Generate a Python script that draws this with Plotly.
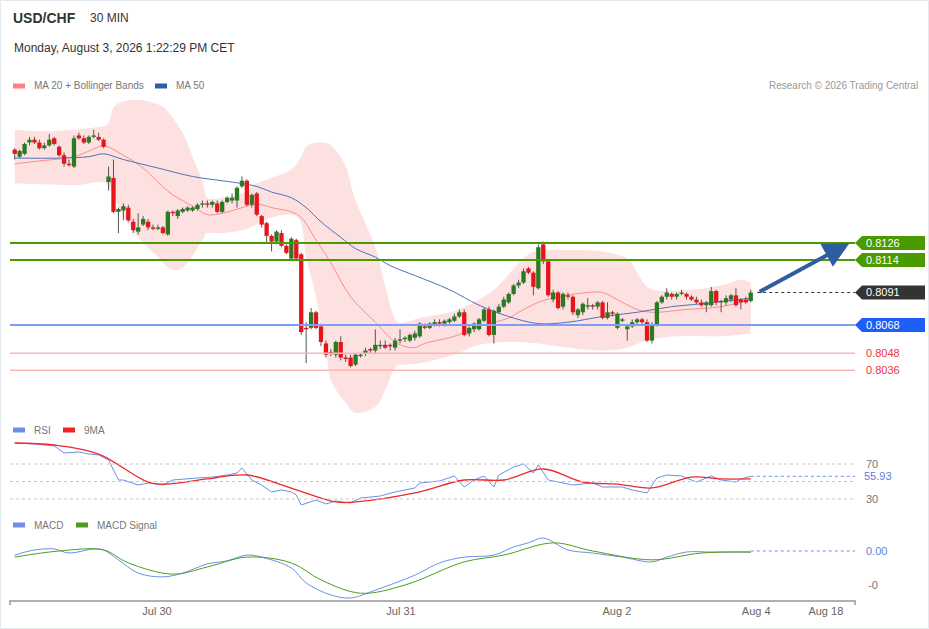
import plotly.graph_objects as go

# ---- candles (30 min, index 0 = first bar on the chart) ----
open_ = [0.8192, 0.8187, 0.8189, 0.8197, 0.8199, 0.8197, 0.8193, 0.8195, 0.8200, 0.8194,
         0.8188, 0.8182, 0.8180, 0.8202, 0.8200, 0.8197, 0.8201, 0.8201, 0.8199, 0.8169,
         0.8172, 0.8148, 0.8149, 0.8151, 0.8141, 0.8134, 0.8139, 0.8141, 0.8137, 0.8136,
         0.8137, 0.8132, 0.8148, 0.8145, 0.8148, 0.8149, 0.8149, 0.8150, 0.8153, 0.8154,
         0.8153, 0.8154, 0.8148, 0.8155, 0.8156, 0.8156, 0.8166, 0.8170, 0.8153, 0.8161,
         0.8145, 0.8140, 0.8131, 0.8127, 0.8133, 0.8124, 0.8115, 0.8128, 0.8118, 0.8066,
         0.8066, 0.8077, 0.8067, 0.8055, 0.8049, 0.8047, 0.8056, 0.8045, 0.8045, 0.8040,
         0.8046, 0.8048, 0.8051, 0.8050, 0.8053, 0.8054, 0.8054, 0.8052, 0.8057, 0.8058,
         0.8057, 0.8059, 0.8060, 0.8067, 0.8066, 0.8068, 0.8070, 0.8069, 0.8070, 0.8071,
         0.8074, 0.8077, 0.8062, 0.8065, 0.8065, 0.8071, 0.8079, 0.8061, 0.8077, 0.8081,
         0.8084, 0.8090, 0.8096, 0.8098, 0.8108, 0.8105, 0.8094, 0.8125, 0.8113, 0.8086,
         0.8091, 0.8081, 0.8089, 0.8088, 0.8075, 0.8077, 0.8081, 0.8082, 0.8081, 0.8084,
         0.8073, 0.8077, 0.8066, 0.8071, 0.8065, 0.8067, 0.8070, 0.8072, 0.8070, 0.8057,
         0.8068, 0.8084, 0.8088, 0.8090, 0.8088, 0.8090, 0.8090, 0.8088, 0.8086, 0.8084,
         0.8082, 0.8082, 0.8092, 0.8084, 0.8084, 0.8086, 0.8089, 0.8086, 0.8086, 0.8085]
high = [0.8193, 0.8192, 0.8197, 0.8201, 0.8201, 0.8199, 0.8197, 0.8203, 0.8201, 0.8195,
        0.8190, 0.8185, 0.8202, 0.8204, 0.8202, 0.8202, 0.8206, 0.8204, 0.8200, 0.8180,
        0.8185, 0.8151, 0.8154, 0.8153, 0.8143, 0.8147, 0.8145, 0.8143, 0.8139, 0.8139,
        0.8138, 0.8149, 0.8149, 0.8150, 0.8151, 0.8152, 0.8152, 0.8154, 0.8156, 0.8156,
        0.8156, 0.8156, 0.8156, 0.8159, 0.8161, 0.8166, 0.8173, 0.8171, 0.8161, 0.8162,
        0.8146, 0.8141, 0.8132, 0.8135, 0.8135, 0.8125, 0.8130, 0.8129, 0.8119, 0.8070,
        0.8080, 0.8078, 0.8069, 0.8057, 0.8051, 0.8057, 0.8060, 0.8047, 0.8047, 0.8048,
        0.8048, 0.8052, 0.8052, 0.8065, 0.8057, 0.8057, 0.8055, 0.8059, 0.8065, 0.8060,
        0.8062, 0.8064, 0.8070, 0.8069, 0.8070, 0.8072, 0.8072, 0.8072, 0.8073, 0.8076,
        0.8079, 0.8079, 0.8067, 0.8070, 0.8073, 0.8080, 0.8081, 0.8079, 0.8083, 0.8088,
        0.8091, 0.8097, 0.8100, 0.8108, 0.8109, 0.8106, 0.8125, 0.8127, 0.8114, 0.8093,
        0.8092, 0.8091, 0.8091, 0.8089, 0.8080, 0.8084, 0.8087, 0.8083, 0.8085, 0.8085,
        0.8084, 0.8078, 0.8077, 0.8073, 0.8068, 0.8072, 0.8073, 0.8073, 0.8072, 0.8070,
        0.8085, 0.8089, 0.8094, 0.8091, 0.8091, 0.8093, 0.8091, 0.8089, 0.8088, 0.8086,
        0.8085, 0.8095, 0.8093, 0.8086, 0.8089, 0.8090, 0.8094, 0.8087, 0.8088, 0.8093]
low = [0.8185, 0.8186, 0.8188, 0.8195, 0.8196, 0.8192, 0.8192, 0.8194, 0.8195, 0.8187,
       0.8180, 0.8180, 0.8179, 0.8199, 0.8196, 0.8196, 0.8200, 0.8198, 0.8193, 0.8163,
       0.8147, 0.8133, 0.8142, 0.8141, 0.8133, 0.8132, 0.8138, 0.8135, 0.8135, 0.8135,
       0.8132, 0.8131, 0.8145, 0.8143, 0.8147, 0.8148, 0.8148, 0.8149, 0.8151, 0.8151,
       0.8151, 0.8147, 0.8147, 0.8154, 0.8154, 0.8151, 0.8165, 0.8152, 0.8151, 0.8145,
       0.8137, 0.8126, 0.8120, 0.8125, 0.8123, 0.8118, 0.8114, 0.8114, 0.8061, 0.8041,
       0.8065, 0.8065, 0.8053, 0.8045, 0.8046, 0.8045, 0.8043, 0.8042, 0.8038, 0.8039,
       0.8045, 0.8046, 0.8048, 0.8048, 0.8051, 0.8051, 0.8050, 0.8050, 0.8055, 0.8056,
       0.8056, 0.8057, 0.8059, 0.8065, 0.8065, 0.8067, 0.8067, 0.8067, 0.8069, 0.8070,
       0.8073, 0.8060, 0.8060, 0.8063, 0.8064, 0.8070, 0.8060, 0.8055, 0.8076, 0.8080,
       0.8083, 0.8089, 0.8094, 0.8097, 0.8104, 0.8089, 0.8093, 0.8111, 0.8088, 0.8084,
       0.8079, 0.8079, 0.8086, 0.8075, 0.8073, 0.8075, 0.8079, 0.8079, 0.8079, 0.8072,
       0.8072, 0.8074, 0.8065, 0.8070, 0.8057, 0.8066, 0.8068, 0.8068, 0.8056, 0.8055,
       0.8067, 0.8083, 0.8086, 0.8086, 0.8086, 0.8089, 0.8086, 0.8085, 0.8083, 0.8081,
       0.8077, 0.8081, 0.8082, 0.8077, 0.8082, 0.8084, 0.8081, 0.8079, 0.8083, 0.8084]
close = [0.8189, 0.8191, 0.8196, 0.8199, 0.8197, 0.8193, 0.8195, 0.8199, 0.8196, 0.8188,
         0.8182, 0.8181, 0.8200, 0.8200, 0.8197, 0.8201, 0.8202, 0.8199, 0.8194, 0.8173,
         0.8148, 0.8150, 0.8152, 0.8142, 0.8135, 0.8137, 0.8143, 0.8137, 0.8136, 0.8137,
         0.8133, 0.8148, 0.8147, 0.8149, 0.8150, 0.8151, 0.8151, 0.8153, 0.8154, 0.8153,
         0.8155, 0.8148, 0.8155, 0.8158, 0.8158, 0.8165, 0.8170, 0.8153, 0.8160, 0.8146,
         0.8139, 0.8131, 0.8127, 0.8134, 0.8124, 0.8119, 0.8129, 0.8115, 0.8063, 0.8065,
         0.8077, 0.8066, 0.8056, 0.8047, 0.8048, 0.8056, 0.8045, 0.8044, 0.8039, 0.8047,
         0.8047, 0.8050, 0.8050, 0.8054, 0.8054, 0.8052, 0.8053, 0.8057, 0.8058, 0.8059,
         0.8061, 0.8062, 0.8069, 0.8066, 0.8069, 0.8070, 0.8069, 0.8071, 0.8072, 0.8074,
         0.8077, 0.8061, 0.8066, 0.8069, 0.8072, 0.8079, 0.8061, 0.8078, 0.8081, 0.8086,
         0.8090, 0.8096, 0.8098, 0.8106, 0.8105, 0.8095, 0.8123, 0.8113, 0.8089, 0.8091,
         0.8080, 0.8090, 0.8088, 0.8077, 0.8079, 0.8083, 0.8082, 0.8081, 0.8084, 0.8073,
         0.8077, 0.8076, 0.8076, 0.8072, 0.8067, 0.8070, 0.8072, 0.8070, 0.8057, 0.8068,
         0.8084, 0.8088, 0.8091, 0.8088, 0.8090, 0.8091, 0.8088, 0.8086, 0.8084, 0.8082,
         0.8084, 0.8092, 0.8084, 0.8085, 0.8087, 0.8089, 0.8082, 0.8084, 0.8084, 0.8091]

# ---- moving averages / bollinger (sampled from the chart) ----
ma20_idx = [0, 5, 12, 17, 18, 22, 26, 29, 32, 36, 39, 42, 46, 48, 50, 52, 56, 58, 61, 64,
            68, 73, 76, 78, 81, 83, 89, 94, 100, 102, 106, 110, 116, 119, 123, 126, 129, 136, 143, 149]
ma20_val = [0.8182, 0.8184, 0.8187, 0.8194, 0.8195, 0.8188, 0.8179, 0.8169, 0.8160, 0.8152,
            0.8146, 0.8147, 0.8151, 0.8153, 0.8153, 0.8151, 0.8148, 0.8144, 0.8128, 0.8112,
            0.8088, 0.8070, 0.8059, 0.8054, 0.8052, 0.8055, 0.8060, 0.8067, 0.8073, 0.8077,
            0.8084, 0.8088, 0.8091, 0.8091, 0.8084, 0.8079, 0.8077, 0.8079, 0.8081, 0.8086]
ma50_idx = [0, 9, 15, 18, 22, 29, 36, 42, 46, 49, 52, 56, 59, 62, 66, 69, 73, 76, 81, 88,
            94, 100, 106, 112, 119, 126, 133, 139, 149]
ma50_val = [0.8186, 0.8186, 0.8187, 0.8189, 0.8185, 0.8179, 0.8173, 0.8170, 0.8168, 0.8166,
            0.8162, 0.8158, 0.8151, 0.8141, 0.8130, 0.8122, 0.8116, 0.8110, 0.8103, 0.8093,
            0.8082, 0.8074, 0.8069, 0.8070, 0.8074, 0.8077, 0.8081, 0.8083, 0.8087]
bb_up_idx = [0, 7, 17, 19, 20, 22, 25, 29, 31, 34, 36, 38, 39, 42, 46, 49, 52, 56, 58, 59,
             61, 64, 67, 69, 73, 75, 77, 79, 82, 89, 94, 98, 101, 104, 107, 113, 119, 124,
             126, 128, 131, 137, 143, 147, 149]
bb_up_val = [0.8206, 0.8205, 0.8208, 0.8211, 0.8222, 0.8226, 0.8227, 0.8224, 0.8219, 0.8204,
             0.8187, 0.8170, 0.8158, 0.8158, 0.8161, 0.8168, 0.8172, 0.8178, 0.8187, 0.8194,
             0.8197, 0.8195, 0.8180, 0.8156, 0.8123, 0.8095, 0.8072, 0.8070, 0.8073, 0.8078,
             0.8086, 0.8096, 0.8108, 0.8118, 0.8121, 0.8121, 0.8120, 0.8115, 0.8105, 0.8095,
             0.8092, 0.8093, 0.8096, 0.8100, 0.8098]
bb_lo_idx = [0, 12, 17, 19, 22, 25, 29, 31, 33, 35, 38, 39, 42, 46, 49, 52, 56, 58, 59, 61,
             63, 64, 67, 69, 73, 75, 77, 79, 82, 89, 94, 100, 106, 112, 119, 124, 128, 134, 143, 149]
bb_lo_val = [0.8168, 0.8167, 0.8169, 0.8166, 0.8145, 0.8130, 0.8116, 0.8109, 0.8107, 0.8112,
             0.8128, 0.8133, 0.8133, 0.8135, 0.8139, 0.8144, 0.8146, 0.8140, 0.8116, 0.8088,
             0.8050, 0.8029, 0.8013, 0.8006, 0.8010, 0.8022, 0.8038, 0.8040, 0.8041, 0.8047,
             0.8054, 0.8056, 0.8055, 0.8052, 0.8050, 0.8052, 0.8057, 0.8060, 0.8060, 0.8062]

# ---- RSI / MACD ----
rsi_idx = [0, 4, 8, 10, 13, 15, 17, 19, 21, 22, 25, 27, 30, 32, 37, 40, 43, 45, 46, 48,
           50, 52, 54, 56, 57, 58, 61, 63, 65, 68, 70, 74, 77, 81, 82, 86, 89, 91, 93, 95,
           97, 98, 101, 103, 105, 106, 108, 110, 113, 117, 119, 123, 125, 128, 130, 132,
           135, 138, 141, 143, 146, 147, 149]
rsi_val = [94.0, 92.9, 90.6, 82.6, 83.7, 81.4, 80.3, 74.6, 51.7, 51.7, 46.0, 48.3, 46.0, 51.7,
           54.0, 55.1, 57.4, 59.7, 65.4, 51.7, 46.0, 38.0, 40.3, 38.0, 34.6, 23.1, 28.9, 24.3,
           27.7, 25.4, 31.1, 33.4, 38.0, 42.6, 48.3, 50.6, 56.3, 43.7, 51.7, 56.3, 43.7, 57.4,
           66.6, 70.0, 59.7, 68.9, 51.7, 49.4, 46.0, 48.3, 43.7, 43.7, 40.3, 36.9, 54.0, 57.4,
           56.3, 49.4, 56.3, 51.7, 49.4, 52.9, 55.93]
rsi_ma_idx = [0, 8, 17, 27, 31, 39, 47, 57, 65, 69, 81, 91, 99, 107, 115, 122, 129, 137, 143, 149]
rsi_ma_val = [94.0, 91.7, 81.4, 49.4, 47.1, 52.9, 57.4, 40.3, 26.6, 26.6, 36.9, 51.7, 51.7,
              64.3, 49.4, 47.1, 42.6, 55.1, 52.9, 52.9]
macd_idx = [0, 4, 8, 11, 16, 18, 21, 25, 30, 34, 39, 43, 47, 50, 56, 59, 64, 68, 73, 81,
            86, 91, 97, 101, 104, 107, 112, 117, 123, 129, 132, 136, 141, 149]
macd_val = [-0.00012, 0.00003, 0.00006, -0.00006, 0.00006, 0.00003, -0.00026, -0.00065,
            -0.00076, -0.00065, -0.00038, -0.00029, -0.00012, -0.00018, -0.00050, -0.00094,
            -0.00129, -0.00138, -0.00115, -0.00071, -0.00035, -0.00018, -0.00012, 0.00012,
            0.00024, 0.00038, 0.00003, -0.00006, -0.00018, -0.00032, -0.00018, -0.00003,
            -0.00003, -0.00003]
signal_idx = [0, 9, 18, 23, 32, 39, 47, 56, 62, 70, 79, 91, 99, 109, 117, 129, 139, 149]
signal_val = [-0.00018, 0.0, 0.00003, -0.00035, -0.00068, -0.00047, -0.00018, -0.00035,
              -0.00085, -0.00124, -0.00100, -0.00032, -0.00012, 0.00024, 0.0, -0.00026,
              -0.00006, -0.00003]

# ---- levels and labels ----
resist = [0.8126, 0.8114]
pivot = 0.8068
support = [0.8048, 0.8036]
last_price = 0.8091
last_rsi = 55.93
tick_pos = [28.8, 78.2, 121.9, 150.1, 164.2]
tick_labels = ["Jul 30", "Jul 31", "Aug 2", "Aug 4", "Aug 18"]

FONT = "Liberation Sans, Arial, sans-serif"
GREEN = "#4b9b00"
RED_C = "#e8141c"
GREEN_C = "#2a7a22"


def px_x(px):
    # pixel -> paper x (plot area spans 10..855)
    return (px - 10) / 845.0


def px_y(py):
    # pixel -> paper y (plot area spans 0..600)
    return (600 - py) / 600.0


def curve(xs, ys):
    # catmull-rom through the points, as svg cubic segments
    pts = list(zip(xs, ys))
    out = ""
    for k in range(len(pts) - 1):
        p0 = pts[k - 1] if k > 0 else pts[k]
        p1, p2 = pts[k], pts[k + 1]
        p3 = pts[k + 2] if k + 2 < len(pts) else pts[k + 1]
        c1 = (p1[0] + (p2[0] - p0[0]) / 6, p1[1] + (p2[1] - p0[1]) / 6)
        c2 = (p2[0] - (p3[0] - p1[0]) / 6, p2[1] - (p3[1] - p1[1]) / 6)
        out += " C %.3f,%.6f %.3f,%.6f %.3f,%.6f" % (c1[0], c1[1], c2[0], c2[1], p2[0], p2[1])
    return out


n = len(close)
idx = list(range(n))

fig = go.Figure()

fig.add_trace(go.Scatter(x=ma20_idx, y=ma20_val, mode="lines",
                         line=dict(color="#ff8a8a", width=1, shape="spline")))
fig.add_trace(go.Scatter(x=ma50_idx, y=ma50_val, mode="lines",
                         line=dict(color="#4e72b8", width=1, shape="spline")))

# wicks
wx, wy = [], []
for i in idx:
    wx += [i, i, None]
    wy += [low[i], high[i], None]
fig.add_trace(go.Scatter(x=wx, y=wy, mode="lines", line=dict(color="#555555", width=1)))

# bodies (thick line segments so they sit above the wicks)
for want_up, col in [(True, GREEN_C), (False, RED_C)]:
    bx, by = [], []
    for i in idx:
        if (close[i] >= open_[i]) == want_up:
            bx += [i, i, None]
            by += [open_[i], close[i], None]
    fig.add_trace(go.Scatter(x=bx, y=by, mode="lines", line=dict(color=col, width=4.3)))

# RSI
fig.add_trace(go.Scatter(x=rsi_idx, y=rsi_val, yaxis="y2", mode="lines",
                         line=dict(color="#6d8fe6", width=1)))
fig.add_trace(go.Scatter(x=rsi_ma_idx, y=rsi_ma_val, yaxis="y2", mode="lines",
                         line=dict(color="#ee2a2a", width=1.3, shape="spline")))

# MACD
fig.add_trace(go.Scatter(x=macd_idx, y=macd_val, yaxis="y3", mode="lines",
                         line=dict(color="#6d8fe6", width=1, shape="spline")))
fig.add_trace(go.Scatter(x=signal_idx, y=signal_val, yaxis="y3", mode="lines",
                         line=dict(color="#4f9e1c", width=1, shape="spline")))

shapes = []
ann = []

# bollinger band, kept beneath every trace
band = ("M %.3f,%.6f" % (bb_up_idx[0], bb_up_val[0]) + curve(bb_up_idx, bb_up_val)
        + " L %.3f,%.6f" % (bb_lo_idx[-1], bb_lo_val[-1])
        + curve(bb_lo_idx[::-1], bb_lo_val[::-1]) + " Z")
shapes.append(dict(type="path", xref="x", yref="y", path=band, layer="below",
                   fillcolor="#fde1e1", line=dict(width=0)))

# horizontal levels
for lv in resist:
    shapes.append(dict(type="line", xref="paper", yref="y", x0=0, x1=1, y0=lv, y1=lv,
                       line=dict(color=GREEN, width=2)))
shapes.append(dict(type="line", xref="paper", yref="y", x0=0, x1=1, y0=pivot, y1=pivot,
                   line=dict(color="#7d9ef2", width=2)))
for lv in support:
    shapes.append(dict(type="line", xref="paper", yref="y", x0=0, x1=1, y0=lv, y1=lv,
                       line=dict(color="#ffb4b4", width=1.5)))
shapes.append(dict(type="line", xref="x", yref="y", x0=n + 0.3, x1=170.1,
                   y0=last_price, y1=last_price,
                   line=dict(color="#333", width=1, dash="dot")))

# price tags on the right
h = 0.00049
for lv, col in [(resist[0], GREEN), (resist[1], GREEN), (last_price, "#333333"), (pivot, "#1f5ef6")]:
    shapes.append(dict(
        type="path", xref="paper", yref="y", fillcolor=col, line=dict(width=0),
        path="M {a},{y} L {b},{t} L {c},{t} L {c},{bt} L {b},{bt} Z".format(
            a=px_x(855), b=px_x(862), c=px_x(925), y=lv, t=lv + h, bt=lv - h)))
    ann.append(dict(xref="paper", yref="y", x=px_x(864), y=lv, text="%.4f" % lv,
                    xanchor="left", yanchor="middle", showarrow=False,
                    font=dict(color="white", size=11)))
for lv in support:
    ann.append(dict(xref="paper", yref="y", x=px_x(864), y=lv, text="%.4f" % lv,
                    xanchor="left", yanchor="middle", showarrow=False,
                    font=dict(color="#f0343c", size=11)))

# forecast arrow
ann.append(dict(x=169.0, y=resist[0], ax=n + 0.5, ay=last_price, xref="x", yref="y",
                axref="x", ayref="y", text="", showarrow=True, arrowhead=2,
                arrowsize=1.3, arrowwidth=4, arrowcolor="#2f5d9e"))

# RSI grid + labels
for lv in [70, 50, 30]:
    shapes.append(dict(type="line", xref="paper", yref="y2", x0=0, x1=1, y0=lv, y1=lv,
                       line=dict(color="#c8c8c8", width=1, dash="dot")))
shapes.append(dict(type="line", xref="x", yref="y2", x0=n - 1, x1=170.1, y0=last_rsi,
                   y1=last_rsi, line=dict(color="#6d8fe6", width=1, dash="dot")))
shapes.append(dict(type="line", xref="x", yref="y3", x0=n - 1, x1=170.1, y0=0, y1=0,
                   line=dict(color="#6d8fe6", width=1, dash="dot")))
for lv in [70, 30]:
    ann.append(dict(xref="paper", yref="y2", x=px_x(864), y=lv, text=str(lv),
                    xanchor="left", yanchor="middle", showarrow=False,
                    font=dict(color="#777", size=11)))
ann.append(dict(xref="paper", yref="y2", x=px_x(862), y=last_rsi, text="%.2f" % last_rsi,
                xanchor="left", yanchor="middle", showarrow=False,
                font=dict(color="#5b7fe0", size=11)))
ann.append(dict(xref="paper", yref="y3", x=px_x(864), y=0, text="0.00",
                xanchor="left", yanchor="middle", showarrow=False,
                font=dict(color="#5b7fe0", size=11)))
ann.append(dict(xref="paper", yref="y3", x=px_x(866), y=-0.001, text="-0",
                xanchor="left", yanchor="middle", showarrow=False,
                font=dict(color="#777", size=11)))

# axis end ticks
for xx in [0, 1]:
    shapes.append(dict(type="line", xref="paper", yref="paper", x0=xx, x1=xx,
                       y0=px_y(600), y1=px_y(605), line=dict(color="#b0b0b0", width=2)))

# outer frame
shapes.append(dict(type="rect", xref="paper", yref="paper", x0=px_x(0.5), x1=px_x(928.5),
                   y0=px_y(628.5), y1=px_y(0.5), line=dict(color="#e4e9ef", width=1)))


def text(px, py, s, size=11, color="#777", anchor="left"):
    ann.append(dict(xref="paper", yref="paper", x=px_x(px), y=px_y(py), text=s,
                    xanchor=anchor, yanchor="middle", showarrow=False,
                    font=dict(size=size, color=color)))


def swatch(px, py, color):
    shapes.append(dict(type="rect", xref="paper", yref="paper", x0=px_x(px), x1=px_x(px + 12),
                       y0=px_y(py + 2.5), y1=px_y(py - 2.5), fillcolor=color, line=dict(width=0)))


# header and legends
text(11, 18, "<b>USD/CHF</b>", 14, "#333")
text(88, 18, "30 MIN", 12, "#333")
text(12, 48, "Monday, August 3, 2026 1:22:29 PM CET", 12, "#333")
swatch(13, 86, "#ff8080")
text(32, 86, "MA 20 + Bollinger Bands", 10)
swatch(155, 86, "#2e5fa3")
text(174, 86, "MA 50", 10)
text(920, 86, "Research © 2026 Trading Central", 10, "#999", "right")
swatch(13, 430, "#6d8fe6")
text(32, 430, "RSI", 10)
swatch(63, 430, "#ee2222")
text(82, 430, "9MA", 10)
swatch(13, 525, "#6d8fe6")
text(32, 525, "MACD", 10)
swatch(76, 525, "#4f9e1c")
text(95, 525, "MACD Signal", 10)

fig.update_layout(
    width=929, height=629,
    margin=dict(l=10, r=74, t=0, b=29),
    paper_bgcolor="white", plot_bgcolor="white",
    showlegend=False,
    font=dict(family=FONT),
    shapes=shapes, annotations=ann,
    xaxis=dict(domain=[0, 1], range=[-0.95, 170.1], anchor="y3",
               showgrid=False, zeroline=False, showline=True, linecolor="#b0b0b0",
               linewidth=2, ticks="", tickvals=tick_pos, ticktext=tick_labels,
               tickfont=dict(size=11, color="#666")),
    yaxis=dict(domain=[px_y(415), px_y(95)], range=[0.80044, 0.82306], visible=False),
    yaxis2=dict(domain=[px_y(505), px_y(438)], range=[23.14, 99.71], visible=False),
    yaxis3=dict(domain=[px_y(600), px_y(530)], range=[-0.00144, 0.000617], visible=False),
)

# page body has a default 8px margin; drop it so the chart sits at the top-left corner
fig.write_html("out.html", config={"displayModeBar": False},
               post_script="document.body.style.margin='0';"
                           "document.body.style.overflow='hidden';")
